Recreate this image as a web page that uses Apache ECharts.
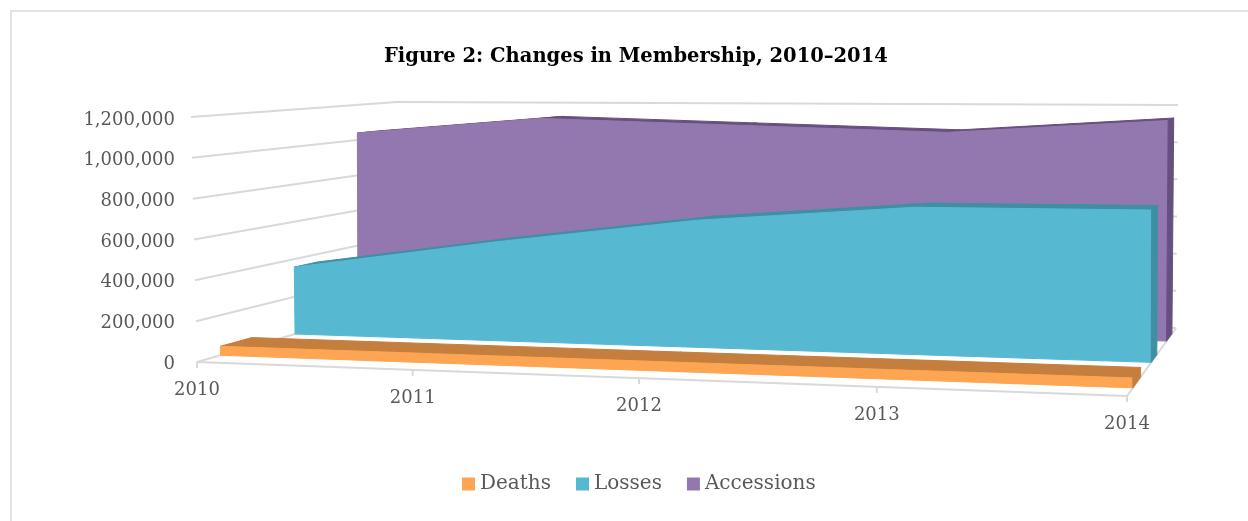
<!DOCTYPE html>
<html>
<head>
<meta charset="utf-8">
<style>
  html, body { margin: 0; padding: 0; background: #fff; }
  #main { width: 1248px; height: 521px; }
</style>
<script src="https://cdn.jsdelivr.net/npm/echarts@6/dist/echarts.min.js"></script>
</head>
<body>
<div id="main"></div>
<script>
var years = ['2010', '2011', '2012', '2013', '2014'];
var deaths = [45000, 45000, 45000, 45000, 45000];
var losses = [358000, 515000, 650000, 735000, 740000];
var accessions = [1040000, 1130000, 1100000, 1070000, 1140000];
var yTicks = [0, 200000, 400000, 600000, 800000, 1000000, 1200000];

var FONT = '"DejaVu Serif"';
var GRID = { left: 183, top: 120, width: 950, height: 244 };

// corners of the 3d box as seen on screen: front-left, front-right, back-right, back-left
var floorCorners = [[197, 362], [1127, 396], [1176, 328], [397, 305]];
var ceilCorners = [[191, 117], [1125, 126], [1178, 105], [397, 102]];
// the back of the box spreads the years more evenly than the front
var DEPTH_SKEW = 0.14;

function squareToQuad(p) {
  var dx1 = p[1][0] - p[2][0], dx2 = p[3][0] - p[2][0], sx = p[0][0] - p[1][0] + p[2][0] - p[3][0];
  var dy1 = p[1][1] - p[2][1], dy2 = p[3][1] - p[2][1], sy = p[0][1] - p[1][1] + p[2][1] - p[3][1];
  var den = dx1 * dy2 - dx2 * dy1;
  var g = (sx * dy2 - dx2 * sy) / den;
  var h = (dx1 * sy - sx * dy1) / den;
  var a = p[1][0] - p[0][0] + g * p[1][0], b = p[3][0] - p[0][0] + h * p[3][0];
  var d = p[1][1] - p[0][1] + g * p[1][1], e = p[3][1] - p[0][1] + h * p[3][1];
  return function (u, v) {
    var w = g * u + h * v + 1;
    return [(a * u + b * v + p[0][0]) / w, (d * u + e * v + p[0][1]) / w];
  };
}
var floorMap = squareToQuad(floorCorners);
var ceilMap = squareToQuad(ceilCorners);

// flat grid pixel -> box position, so values still go through the echarts axes
function project(api, cat, val, depth) {
  var pt = api.coord([cat, val]);
  var u = (pt[0] - GRID.left) / GRID.width;
  var t = (GRID.top + GRID.height - pt[1]) / GRID.height;
  u = u + DEPTH_SKEW * depth * u * (1 - u);
  var lo = floorMap(u, depth), hi = ceilMap(u, depth);
  return [lo[0] + (hi[0] - lo[0]) * t, lo[1] + (hi[1] - lo[1]) * t];
}

function poly(points, color) {
  return {
    type: 'polygon',
    shape: { points: points },
    style: { fill: color, stroke: color, lineWidth: 1 }
  };
}

function slabSeries(name, values, front, back, color, dark) {
  return {
    name: name,
    type: 'custom',
    coordinateSystem: 'cartesian2d',
    itemStyle: { color: color },
    data: values.map(function (v, i) { return [years[i], v]; }),
    renderItem: function (params, api) {
      var i = params.dataIndex;
      var kids = [];
      var last = i === values.length - 1;
      var f = project(api, i, values[i], front), b = project(api, i, values[i], back);
      if (!last) {
        var f2 = project(api, i + 1, values[i + 1], front), b2 = project(api, i + 1, values[i + 1], back);
        kids.push(poly([f, f2, b2, b], dark));
        kids.push(poly([f, f2, project(api, i + 1, 0, front), project(api, i, 0, front)], color));
      } else {
        kids.push(poly([f, b, project(api, i, 0, back), project(api, i, 0, front)], dark));
      }
      return { type: 'group', children: kids };
    }
  };
}

var frameLine = { stroke: '#D9D9D9', lineWidth: 2 };

var frameSeries = {
  type: 'custom',
  coordinateSystem: 'cartesian2d',
  silent: true,
  data: yTicks.map(function (v) { return ['2010', v]; }),
  renderItem: function (params, api) {
    var v = yTicks[params.dataIndex];
    var kids = [];
    [[[0, 0], [0, 1]], [[0, 1], [1, 1]]].forEach(function (seg) {
      var a = project(api, seg[0][0] * 4, v, seg[0][1]);
      var c = project(api, seg[1][0] * 4, v, seg[1][1]);
      kids.push({ type: 'line', shape: { x1: a[0], y1: a[1], x2: c[0], y2: c[1] }, style: frameLine });
    });
    if (v === 0) {
      var fl = project(api, 0, 0, 0), fr = project(api, 4, 0, 0), br = project(api, 4, 0, 1);
      kids.push({ type: 'line', shape: { x1: fl[0], y1: fl[1], x2: fr[0], y2: fr[1] }, style: frameLine });
      kids.push({ type: 'line', shape: { x1: fr[0], y1: fr[1], x2: br[0], y2: br[1] }, style: frameLine });
    }
    return { type: 'group', children: kids };
  }
};

var yearSeries = {
  type: 'custom',
  coordinateSystem: 'cartesian2d',
  silent: true,
  data: years.map(function (y) { return [y, 0]; }),
  renderItem: function (params, api) {
    var p = project(api, params.dataIndex, 0, 0);
    return {
      type: 'group',
      children: [
        { type: 'line', shape: { x1: p[0], y1: p[1], x2: p[0], y2: p[1] + 6 }, style: frameLine },
        {
          type: 'text',
          style: {
            x: p[0], y: p[1] + 28, text: years[params.dataIndex],
            align: 'center', verticalAlign: 'middle',
            font: '18px ' + FONT, fill: '#595959'
          }
        }
      ]
    };
  }
};

var myChart = echarts.init(document.getElementById('main'));
myChart.setOption({
  animation: false,
  backgroundColor: '#fff',
  title: {
    text: 'Figure 2: Changes in Membership, 2010\u20132014',
    left: 379,
    top: 42,
    textStyle: { fontFamily: FONT, fontSize: 19.5, fontWeight: 'bold', color: '#000' }
  },
  legend: {
    data: ['Deaths', 'Losses', 'Accessions'],
    left: 457,
    top: 469,
    icon: 'rect',
    itemWidth: 13,
    itemHeight: 13,
    itemGap: 25,
    textStyle: { fontFamily: FONT, fontSize: 20, color: '#595959' }
  },
  graphic: [{
    // only the top and left of the frame fall inside the picture
    type: 'rect',
    silent: true,
    z: -1,
    shape: { x: 11, y: 11, width: 1300, height: 600 },
    style: { fill: 'none', stroke: '#E3E3E3', lineWidth: 2 }
  }],
  grid: { left: GRID.left, top: GRID.top, width: GRID.width, height: GRID.height },
  xAxis: {
    type: 'category',
    data: years,
    boundaryGap: false,
    axisLine: { show: false },
    axisTick: { show: false },
    axisLabel: { show: false },
    splitLine: { show: false }
  },
  yAxis: {
    type: 'value',
    min: 0,
    max: 1200000,
    interval: 200000,
    axisLine: { show: false },
    axisTick: { show: false },
    splitLine: { show: false },
    axisLabel: { margin: 8, fontFamily: FONT, fontSize: 18, color: '#595959' }
  },
  series: [
    frameSeries,
    slabSeries('Accessions', accessions, 0.775, 0.9, '#9278AE', '#66507F'),
    slabSeries('Losses', losses, 0.445, 0.56, '#57B8D2', '#3F8FA3'),
    slabSeries('Deaths', deaths, 0.1, 0.24, '#FDA552', '#C47F3F'),
    yearSeries
  ]
});
</script>
</body>
</html>
